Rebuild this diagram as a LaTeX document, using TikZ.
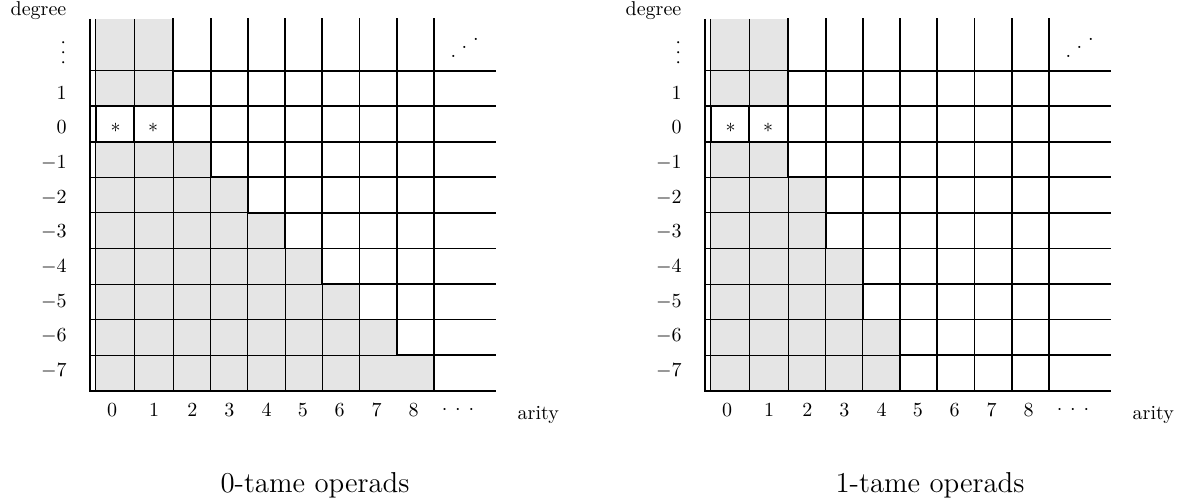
\documentclass[tikz,border=0pt]{standalone}
\tikzset{
  thinln/.style={line width=0.45pt},
  thickln/.style={line width=0.9pt, line cap=rect},
  axisln/.style={line width=0.9pt, line join=miter},
  graycell/.style={fill=black!10},
  lbl/.style={inner sep=0pt, outer sep=0pt},
  captext/.style={inner sep=0pt, font=\Large, anchor=base},
}
\def\XX{{95.7,134.1,173.1,210.6,247.8,285.1,322.2,359.4,396.7,434}}
\def\YY{{19,70.7,106.25,141.8,177.35,212.9,248.45,284,319.55,355.1,390.65}}

% #1 prefix, #2 rows r/g, #3 boundaries b/ga/gb, #4 skipped thin vertical in last row, #5 caption
\newcommand\opdiagram[5]{%
  % gray fills
  \foreach \r/\g in {#2}{%
    \pgfmathsetmacro\yt{\YY[\r]}%
    \pgfmathsetmacro\yb{\YY[\r+1]}%
    \ifnum\g>0
      \pgfmathsetmacro\xg{\XX[\g]}%
      \fill[graycell] (95.7,\yt) rectangle (\xg,\yb);
    \fi
  }
  % thin horizontals and stubs
  \foreach \b/\ga/\gb in {#3}{%
    \pgfmathsetmacro\yy{\YY[\b]}%
    \pgfmathtruncatemacro\gm{min(\ga,\gb)}%
    \pgfmathsetmacro\xm{\XX[\gm]}%
    \ifnum\gm>0
      \draw[thinln] (95.7,\yy) -- (\xm,\yy);
      \draw[thinln] (90,\yy) -- (95.7,\yy);
    \fi
  }
  % thin verticals
  \foreach \r/\g in {#2}{%
    \pgfmathsetmacro\yt{\YY[\r]}%
    \pgfmathsetmacro\yb{\YY[\r+1]}%
    \foreach \k in {0,...,9}{%
      \pgfmathsetmacro\xk{\XX[\k]}%
      \ifnum\k<\g
        \ifnum\r=9
          \ifnum\k=#4 \else \draw[thinln] (\xk,\yt) -- (\xk,\yb); \fi
        \else
          \draw[thinln] (\xk,\yt) -- (\xk,\yb);
        \fi
      \fi
    }
  }
  % thick verticals
  \foreach \r/\g in {#2}{%
    \pgfmathsetmacro\yt{\YY[\r]}%
    \pgfmathsetmacro\yb{\YY[\r+1]}%
    \foreach \k in {0,...,9}{%
      \pgfmathsetmacro\xk{\XX[\k]}%
      \ifnum\k<\g \else
        \draw[thickln] (\xk,\yt) -- (\xk,\yb);
      \fi
    }
  }
  % thick horizontals and stubs
  \foreach \b/\ga/\gb in {#3}{%
    \pgfmathsetmacro\yy{\YY[\b]}%
    \pgfmathtruncatemacro\gm{min(\ga,\gb)}%
    \pgfmathsetmacro\xm{\XX[\gm]}%
    \draw[thickln] (\xm,\yy) -- (495,\yy);
    \ifnum\gm=0
      \draw[thickln] (90,\yy) -- (95.7,\yy);
    \fi
  }
  % axes
  \draw[axisln] (90,19) -- (90,390.65) -- (495.5,390.65);
  % asterisks
  \node[lbl] (#1s0) at (115.5,127.5) {$*$};
  \node[lbl] (#1s1) at (153,127.5) {$*$};
  % degree labels
  \node[lbl, anchor=base east] (#1deg) at (66.3,15.5) {degree};
  \node[lbl, rotate=90] (#1vd) at (63.3,52.3) {.\kern2.22pt.\kern2.22pt.};
  \foreach \d/\yb in {1/100,0/134,-1/168.7,-2/203.3,-3/238,-4/272.7,-5/307.4,-6/342,-7/376.7}{%
    \node[lbl, anchor=base east] (#1row\d) at (66.7,\yb) {$\d$};
  }
  % arity labels
  \foreach \n/\xx in {0/112,1/154,2/192.3,3/229.4,4/266.7,5/302.9,6/339.6,7/376.5,8/413.7}{%
    \node[lbl, anchor=base] (#1col\n) at (\xx,416.7) {$\n$};
  }
  \node[lbl, anchor=base] (#1cd) at (458,415)
    {$\cdotp$\kern3.9pt$\cdotp$\kern3.9pt$\cdotp$};
  \node[lbl, anchor=base west] (#1ar) at (517.7,419.5) {arity};
  \node[lbl, anchor=base west] (#1id) at (450.5,57.4)
    {.\kern2.72pt\raisebox{4.5pt}{.}\kern3.07pt\raisebox{8.5pt}{.}};
  % caption
  \node[captext] (#1cap) at (315,492.3) {#5};
}

\begin{document}
\begin{tikzpicture}[x=0.5pt, y=-0.5pt]
  \useasboundingbox (0,0) rectangle (1187,501);
  \opdiagram{A}%
    {0/2,1/2,2/0,3/3,4/4,5/5,6/6,7/7,8/8,9/9}%
    {1/2/2,2/2/0,3/0/3,4/3/4,5/4/5,6/5/6,7/6/7,8/7/8,9/8/9}%
    {8}{0-tame operads}
  \begin{scope}[shift={(615,0)}]
  \opdiagram{B}%
    {0/2,1/2,2/0,3/2,4/3,5/3,6/4,7/4,8/5,9/5}%
    {1/2/2,2/2/0,3/0/2,4/2/3,5/3/3,6/3/4,7/4/4,8/4/5,9/5/5}%
    {-1}{1-tame operads}
  \end{scope}
\end{tikzpicture}
\end{document}
